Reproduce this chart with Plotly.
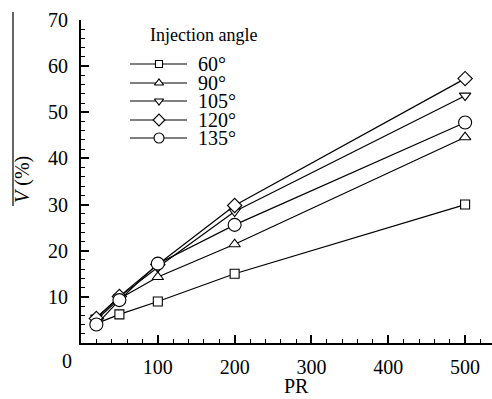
import plotly.graph_objects as go

# Pressure ratio and V (%) for each injection angle
pr = [20, 50, 100, 200, 500]
angles = ["60°", "90°", "105°", "120°", "135°"]
v_60 = [4.2, 6.2, 9.0, 15.0, 30.0]
v_90 = [5.0, 9.6, 14.3, 21.4, 44.6]
v_105 = [5.5, 10.0, 16.4, 28.5, 53.6]
v_120 = [5.3, 10.1, 17.0, 29.8, 57.3]
v_135 = [4.0, 9.3, 17.2, 25.6, 47.8]
series = [v_60, v_90, v_105, v_120, v_135]
symbols = ["square", "triangle-up", "triangle-down", "diamond", "circle"]
sizes = [9, 10, 10, 11, 13]
legend_sizes = [7, 8, 8, 9, 10]

x_ticks = [100, 200, 300, 400, 500]
y_ticks = [10, 20, 30, 40, 50, 60, 70]

W, H = 492, 399
L, R, T, B = 81, 0, 20, 56
FONT = "Liberation Serif"
TXT = dict(family=FONT, size=20, color="black")


def px_x(px):
    return (px - L) / (W - L - R)


def px_y(py):
    return (H - B - py) / (H - T - B)


def label(px, py, text, xanchor="center", size=20, **kw):
    fig.add_annotation(x=px_x(px), y=px_y(py), xref="paper", yref="paper",
                       text=text, showarrow=False, xanchor=xanchor,
                       yanchor="middle",
                       font=dict(family=FONT, size=size, color="black"), **kw)


fig = go.Figure()

for vals, sym, sz in zip(series, symbols, sizes):
    fig.add_trace(go.Scatter(
        x=pr, y=vals, mode="lines+markers",
        line=dict(color="black", width=1.2),
        marker=dict(symbol=sym, size=sz, color="white",
                    line=dict(color="black", width=1.1)),
        showlegend=False, cliponaxis=False,
    ))

# Legend drawn on an overlay axis measured in pixels
leg_y = [64, 83, 101, 120, 138]
for name, sym, sz, ly in zip(angles, symbols, legend_sizes, leg_y):
    fig.add_trace(go.Scatter(
        x=[130, 159, 187], y=[ly, ly, ly], mode="lines",
        line=dict(color="black", width=1.2),
        xaxis="x2", yaxis="y2", showlegend=False, hoverinfo="skip",
    ))
    fig.add_trace(go.Scatter(
        x=[159], y=[ly], mode="markers",
        marker=dict(symbol=sym, size=sz, color="white",
                    line=dict(color="black", width=1.1)),
        xaxis="x2", yaxis="y2", showlegend=False, hoverinfo="skip",
    ))
    label(196, ly, name, xanchor="left")

label(203, 35, "Injection angle", size=18)

# Axis titles and the corner zero
label(296, 386, "PR")
label(23, 180, "<i>V</i> (%)", textangle=-90)
fig.add_shape(type="line", xref="paper", yref="paper",
              x0=px_x(13), x1=px_x(13), y0=px_y(12), y1=px_y(206),
              line=dict(color="black", width=1.2))
label(67, 361, "0")

fig.update_layout(
    width=W, height=H,
    margin=dict(l=L, r=R, t=T, b=B),
    paper_bgcolor="white", plot_bgcolor="white",
    font=TXT,
    xaxis=dict(
        range=[0, 535], tickvals=x_ticks, ticks="inside", ticklen=8,
        tickwidth=1.5, tickcolor="black", showline=True, linewidth=2,
        linecolor="black", showgrid=False, zeroline=False,
        ticklabelstandoff=5, tickfont=TXT,
        minor=dict(dtick=20, tick0=0, ticks="inside", ticklen=4,
                   tickwidth=1, tickcolor="black", showgrid=False),
    ),
    yaxis=dict(
        range=[0, 70], tickvals=y_ticks, ticks="inside", ticklen=8,
        tickwidth=1.5, tickcolor="black", showline=True, linewidth=2,
        linecolor="black", showgrid=False, zeroline=False,
        ticklabelstandoff=7, tickfont=TXT,
        minor=dict(dtick=2, tick0=0, ticks="inside", ticklen=4,
                   tickwidth=1, tickcolor="black", showgrid=False),
    ),
    xaxis2=dict(range=[L, W - R], overlaying="x", visible=False,
                fixedrange=True),
    yaxis2=dict(range=[H - B, T], overlaying="y", visible=False,
                fixedrange=True),
)

fig.write_html("out.html")
